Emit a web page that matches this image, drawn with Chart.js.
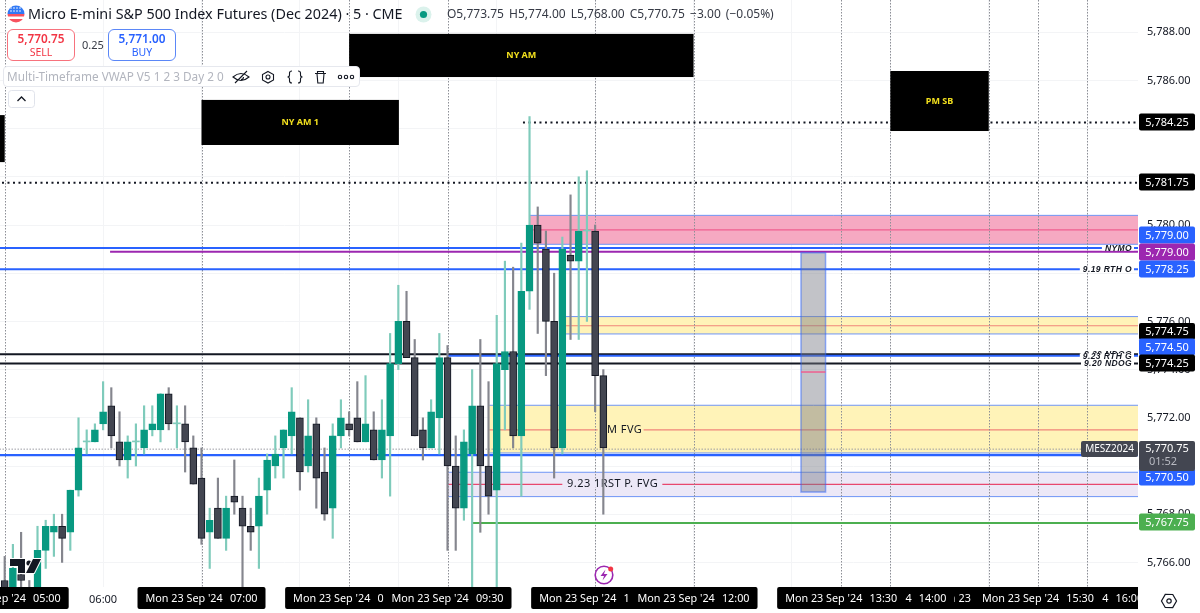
<!DOCTYPE html>
<html>
<head>
<meta charset="utf-8">
<title>MES 5 minute chart</title>
<script src="https://cdn.jsdelivr.net/npm/chart.js@4"></script>
<style>
  html, body { margin: 0; padding: 0; background: #fff; overflow: hidden; }
  #wrap { position: relative; width: 1200px; height: 613px; font-family: "Noto Sans", sans-serif; color: #131722; }
  canvas { position: absolute; left: 0; top: 0; }
  .abs { position: absolute; white-space: nowrap; }
  .btn { position: absolute; top: 29px; width: 68px; height: 32px; box-sizing: border-box; border-radius: 6px; background: #fff; text-align: center; border: 1px solid; }
  .btn b { display: block; font-weight: 600; font-size: 11.8px; line-height: 15px; margin-top: 1px; }
  .btn span { display: block; font-size: 10.5px; line-height: 13px; }
  #bar { position: absolute; left: 3px; top: 66px; width: 357px; height: 21px; box-sizing: border-box; background: #fff; border: 1px solid #e6e8ee; border-radius: 4px; }
</style>
</head>
<body>
<div id="wrap">
  <canvas id="c" width="1200" height="613"></canvas>

  <svg class="abs" style="left:7px;top:5px" width="18" height="18" viewBox="0 0 18 18">
    <defs><clipPath id="fc"><circle cx="9" cy="9" r="8.5"/></clipPath></defs>
    <g clip-path="url(#fc)">
      <rect width="18" height="18" fill="#fff"/>
      <rect y="9" width="18" height="2.5" fill="#f7525f"/>
      <rect y="14" width="18" height="4" fill="#f7525f"/>
      <rect y="0" width="18" height="9" fill="#3179f5"/>
      <g fill="#fff"><circle cx="4" cy="3" r=".8"/><circle cx="7" cy="3" r=".8"/><circle cx="10" cy="3" r=".8"/><circle cx="13" cy="3" r=".8"/><circle cx="4" cy="6" r=".8"/><circle cx="7" cy="6" r=".8"/><circle cx="10" cy="6" r=".8"/><circle cx="13" cy="6" r=".8"/></g>
    </g>
  </svg>
  <div class="abs" style="left:28px;top:4px;font-size:14.35px;line-height:20px">Micro E-mini S&amp;P 500 Index Futures (Dec 2024) · 5 · CME</div>
  <svg class="abs" style="left:415px;top:6px" width="17" height="17"><circle cx="8.5" cy="8.5" r="8" fill="#dbf2ec"/><circle cx="8.5" cy="8.5" r="3.6" fill="#089981"/></svg>
  <div class="abs" style="left:447px;top:6px;font-size:12px;line-height:16px;color:#363a45;word-spacing:2px">O5,773.75 H5,774.00 L5,768.00 C5,770.75 −3.00 (−0.05%)</div>

  <div class="btn" style="left:7px;border-color:#f7727d;color:#f23645"><b>5,770.75</b><span>SELL</span></div>
  <div class="abs" style="left:82px;top:37px;font-size:11px;line-height:16px;color:#363a45">0.25</div>
  <div class="btn" style="left:108px;border-color:#5b87f7;color:#2962ff"><b>5,771.00</b><span>BUY</span></div>

  <div id="bar">
    <div class="abs" style="left:3px;top:1px;font-size:11.75px;line-height:17px;color:#b2b5be">Multi-Timeframe VWAP V5 1 2 3 Day 2 0</div>
    <svg class="abs" style="left:225px;top:0" width="130" height="20" fill="none" stroke="#131722" stroke-width="1.1">
      <path d="M4 10q8-7 16 0q-8 7-16 0zM6 16L18 4M12 12.5a2.5 2.5 0 0 0 2.5-2.5"/>
      <path d="M39 4.5l5.5 3v5.5l-5.5 3-5.5-3V7.5z"/><circle cx="39" cy="10" r="2"/>
      <path d="M63 4q-2.500 0-2.500 2v2q0 2-2 2q2 0 2 2v2q0 2 2.500 2M69 4q2.500 0 2.500 2v2q0 2 2 2q-2 0-2 2v2q0 2-2.500 2"/>
      <path d="M86 6.500h11M88.500 6.500v-2h6v2M88 6.500l.8 9.500h5.400l.8-9.500"/>
      <circle cx="111" cy="10" r="1.700"/><circle cx="117" cy="10" r="1.700"/><circle cx="123" cy="10" r="1.700"/>
    </svg>
  </div>
  <svg class="abs" style="left:8px;top:90px" width="27" height="18"><rect x=".5" y=".5" width="26" height="17" rx="3" fill="#fff" stroke="#e0e3eb"/><path d="M9.500 11l4-4 4 4" fill="none" stroke="#131722" stroke-width="1.300"/></svg>

  <svg class="abs" style="left:8px;top:556px" width="36" height="20" viewBox="0 0 36 20">
    <g fill="#131722" stroke="#fff" stroke-width="2" paint-order="stroke">
      <path d="M2 3h15v14h-7V10H2z"/><circle cx="21" cy="7" r="2.600"/><path d="M25 3h8l-7 14h-8z"/>
    </g>
  </svg>
  <svg class="abs" style="left:592px;top:563px" width="24" height="24">
    <circle cx="12" cy="12" r="8.800" fill="#fff" stroke="#9c27b0" stroke-width="1.600"/>
    <path d="M13.500 6.500l-5 6.500h3.500l-1.500 4.500 5-6.500H12z" fill="#9c27b0"/>
    <circle cx="18.700" cy="6" r="2.500" fill="#f23645"/>
  </svg>
  <svg class="abs" style="left:1159px;top:591px" width="20" height="20" fill="none" stroke="#131722" stroke-width="1.200">
    <path d="M10 2.500l6.500 3.700-.0 7.600L10 17.500 3.500 13.800V6.200z" transform="rotate(30 10 10)"/><circle cx="10" cy="10" r="2.200"/>
  </svg>
</div>

<script>
// Five minute bars counted from 05:00; index 73 is the 11:05 bar still forming.
const barIndex = Array.from({ length: 74 }, (_, i) => i);
const opens = [5765.25,5764.75,5765.50,5764.75,5764.75,5766.50,5767.25,5767.50,5767.25,5769.00,5771.00,5771.00,5771.75,5772.50,5771.00,5770.25,5771.00,5770.75,5771.50,5771.50,5773.00,5771.75,5771.75,5770.75,5769.50,5767.25,5768.25,5767.00,5768.75,5768.25,5767.50,5767.50,5769.00,5770.00,5770.75,5771.25,5772.00,5770.00,5771.75,5769.75,5768.25,5771.25,5771.75,5772.00,5771.00,5771.50,5770.25,5771.25,5774.25,5776.00,5774.50,5771.50,5770.75,5772.00,5774.50,5770.00,5768.25,5770.50,5772.50,5770.00,5769.00,5774.00,5774.75,5771.25,5777.25,5780.00,5779.00,5776.00,5770.75,5778.75,5778.50,5779.75,5779.75,5773.75];
const highs = [5766.25,5766.75,5767.25,5765.25,5767.50,5767.75,5768.00,5768.00,5769.00,5772.00,5771.50,5771.75,5773.50,5773.25,5772.25,5771.25,5771.75,5772.50,5772.50,5773.00,5773.25,5772.50,5772.50,5771.25,5770.75,5768.25,5769.50,5768.75,5770.25,5768.75,5768.25,5769.50,5770.50,5771.25,5771.50,5773.25,5772.00,5772.75,5772.00,5770.75,5771.75,5772.75,5772.25,5773.50,5773.75,5772.25,5772.75,5775.50,5777.50,5777.25,5775.25,5772.00,5772.75,5775.50,5775.00,5771.25,5771.50,5774.00,5775.25,5773.50,5776.25,5778.50,5778.25,5779.25,5784.50,5780.75,5779.75,5778.00,5779.50,5781.25,5782.00,5782.25,5780.00,5774.00];
const lows = [5764.50,5764.50,5764.75,5764.50,5764.50,5765.75,5766.25,5766.00,5766.50,5768.75,5770.50,5771.00,5771.50,5770.75,5770.00,5769.50,5770.00,5770.50,5771.25,5771.00,5771.50,5770.75,5769.75,5769.25,5766.75,5765.75,5767.00,5766.50,5768.00,5764.50,5766.50,5765.75,5768.00,5769.50,5769.50,5770.50,5769.00,5769.75,5768.25,5767.75,5767.00,5770.75,5771.25,5771.00,5771.00,5770.25,5769.50,5768.75,5774.00,5774.50,5771.25,5770.25,5770.75,5770.50,5766.50,5766.50,5767.75,5764.50,5767.25,5768.00,5764.50,5771.50,5770.75,5768.75,5776.50,5775.50,5773.75,5769.50,5770.50,5775.25,5775.25,5776.00,5772.25,5768.00];
const closes = [5764.75,5765.75,5765.25,5764.50,5766.50,5767.50,5767.50,5767.00,5769.00,5770.75,5771.00,5771.50,5772.25,5771.25,5770.25,5771.00,5771.00,5771.50,5771.75,5773.00,5771.75,5771.75,5771.00,5769.25,5767.00,5767.75,5767.00,5768.25,5768.50,5767.50,5767.25,5768.75,5770.25,5770.50,5771.50,5772.25,5769.75,5771.25,5769.50,5768.00,5771.25,5772.00,5771.50,5771.00,5771.75,5770.25,5771.50,5774.25,5776.00,5774.50,5771.25,5770.75,5772.25,5774.50,5770.00,5768.25,5771.00,5772.50,5770.00,5768.75,5774.25,5774.75,5771.25,5777.25,5780.00,5779.25,5776.00,5770.75,5779.00,5778.50,5779.75,5779.75,5773.75,5770.75];

// Horizontal price levels, then the bar each one starts at.
const levelPrices = [5784.25, 5781.75, 5779.05, 5778.89, 5778.16, 5774.64, 5774.57, 5774.25, 5770.45, 5767.64, 5770.70];
const levelStarts = [63.2, -1, -1, 12.85, -1, -1, 54, -1, -1, 57, -1];
const levelStyles = [
  { color: '#131722', width: 2, dash: [2, 3.5] }, { color: '#131722', width: 2, dash: [2, 3.5] },
  { color: '#2962ff', width: 2 }, { color: '#9c27b0', width: 2.2 }, { color: '#2962ff', width: 2 },
  { color: '#131722', width: 2 }, { color: '#2962ff', width: 2 }, { color: '#131722', width: 2 },
  { color: '#2962ff', width: 2.4 }, { color: '#4caf50', width: 2 }, { color: '#9a9ca3', width: 1, dash: [1.5, 1.5] }
];

// Fair value gap zones: upper, middle and lower price, first bar.
const zoneUppers = [5780.40, 5776.20, 5772.52, 5769.74];
const zoneMiddles = [5779.80, 5775.82, 5771.50, 5769.24];
const zoneLowers = [5779.20, 5775.48, 5770.54, 5768.73];
const zoneStarts = [64, 68.45, 59.1, 54];
const zoneFills = ['#f6a9c2', '#fff3b8', '#fff3b8', '#ece8f7'];
const zoneMids = ['#ef5f8f', '#f0857a', '#f0857a', '#e8476e'];

// Session boxes.
const sessionNames = ['', 'NY AM 1', 'NY AM', 'PM SB'];
const sessionFrom = [-12, 24, 42, 108];
const sessionTo = [0, 48.07, 84, 120];
const sessionHigh = [5784.56, 5785.19, 5787.93, 5786.39];
const sessionLow = [5782.61, 5783.32, 5786.14, 5783.90];

// Time labels in the order they stack on the axis.
const timeMarks = [0, 24, 42, 54, 72, 84, 132, 120, 108, 102, 126];
const dateLabel = "Mon 23 Sep '24";
const hourTicks = [12, 24, 36, 48, 60, 72, 84, 96, 108, 120, 132];
const hiddenPriceTicks = [5782, 5784];
const priceLabels = ['NYMO', '9.19 RTH O', '9.20 NDOG', '9.23 RTH G', '9.20 NDOG'];
const priceLabelLevels = [2, 4, 5, 6, 7];

const pad = n => String(n).padStart(2, '0');
const clock = i => { const m = 300 + i * 5; return pad(Math.floor(m / 60)) + ':' + pad(m % 60); };
const money = v => v.toLocaleString('en-US', { minimumFractionDigits: 2, maximumFractionDigits: 2 });
const toTick = v => money(Math.round(v * 4) / 4);

const GREEN = '#089981', GREEN_WICK = '#7fcbbb', DARK = '#434651', DARK_EDGE = '#131722', DARK_WICK = '#85868e';
const isUp = i => closes[i] >= opens[i];
const FONT = '"Noto Sans", sans-serif';
const RIGHT = 138.2;

const overlays = {
  id: 'overlays',
  // Zones and the dotted session markers sit under everything drawn by datasets.
  beforeDatasetsDraw(chart) {
    const { ctx, chartArea: a, scales: { x, y } } = chart;
    ctx.save();
    ctx.beginPath(); ctx.rect(a.left, a.top, a.width, a.height); ctx.clip();
    zoneUppers.forEach((_, i) => {
      const x0 = x.getPixelForValue(zoneStarts[i]);
      const t = y.getPixelForValue(zoneUppers[i]), m = y.getPixelForValue(zoneMiddles[i]), b = y.getPixelForValue(zoneLowers[i]);
      ctx.fillStyle = zoneFills[i];
      ctx.fillRect(x0, t, a.right - x0, b - t);
      ctx.lineWidth = 1; ctx.strokeStyle = '#6f95f5';
      ctx.beginPath(); ctx.moveTo(x0, t); ctx.lineTo(a.right, t); ctx.moveTo(x0, b); ctx.lineTo(a.right, b); ctx.stroke();
      ctx.strokeStyle = zoneMids[i]; ctx.lineWidth = 1.2;
      ctx.beginPath(); ctx.moveTo(x0, m); ctx.lineTo(a.right, m); ctx.stroke();
    });
    ctx.strokeStyle = '#8d8f96'; ctx.lineWidth = 1; ctx.setLineDash([1.5, 1.5]);
    timeMarks.forEach(t => {
      const px = Math.round(x.getPixelForValue(t)) + 0.5;
      ctx.beginPath(); ctx.moveTo(px, a.top); ctx.lineTo(px, a.bottom); ctx.stroke();
    });
    ctx.restore();
  },
  // Text tied to the levels goes above the lines but below the candles.
  beforeDatasetDraw(chart, args) {
    if (args.index !== 1) return;
    const { ctx, chartArea: a, scales: { x, y } } = chart;
    ctx.save();
    ctx.textBaseline = 'middle';
    ctx.textAlign = 'right';
    ctx.font = 'italic bold 8.5px "Liberation Sans"';
    ctx.letterSpacing = '.4px';
    priceLabels.forEach((text, i) => {
      const py = y.getPixelForValue(levelPrices[priceLabelLevels[i]]);
      const w = ctx.measureText(text).width;
      ctx.fillStyle = '#fff';
      ctx.fillRect(1132 - w - 3, py - 2.5, w + 5, 5);
      ctx.fillStyle = '#131722';
      ctx.fillText(text, 1132, py + .5);
    });
    ctx.font = '11px ' + FONT;
    ctx.letterSpacing = '.45px';
    ctx.textAlign = 'left';
    const yM = y.getPixelForValue(zoneMiddles[2]), yP = y.getPixelForValue(zoneMiddles[3]);
    ctx.fillStyle = zoneFills[2]; ctx.fillRect(x.getPixelForValue(72.3), yM - 3, 46, 6);
    ctx.fillStyle = zoneFills[3]; ctx.fillRect(x.getPixelForValue(68), yP - 3, 100, 6);
    ctx.fillStyle = '#131722';
    ctx.fillText('M FVG', 607, yM);
    ctx.fillText('9.23 1RST P. FVG', 567, yP);

    // Translucent measuring box between the NYMO level and the low of the session.
    const l = x.getPixelForValue(97.1), r = x.getPixelForValue(100.1);
    const top = y.getPixelForValue(5778.85), bot = y.getPixelForValue(5768.92), mid = y.getPixelForValue(5773.90);
    ctx.fillStyle = 'rgba(120,123,134,.45)';
    ctx.fillRect(l, top, r - l, bot - top);
    ctx.strokeStyle = 'rgba(41,98,255,.5)'; ctx.lineWidth = 1.5;
    ctx.strokeRect(l, top, r - l, bot - top);
    ctx.strokeStyle = '#ef5f8f'; ctx.lineWidth = 1.5;
    ctx.beginPath(); ctx.moveTo(l, mid); ctx.lineTo(r, mid); ctx.stroke();
    ctx.restore();
  },
  // Session boxes, price tags and the time axis stamps lie above the series.
  afterDatasetsDraw(chart) {
    const { ctx, chartArea: a, scales: { x, y } } = chart;
    ctx.save();
    ctx.beginPath(); ctx.rect(0, 0, a.right, 613); ctx.clip();
    ctx.textBaseline = 'middle';
    sessionNames.forEach((name, i) => {
      const l = x.getPixelForValue(sessionFrom[i]), r = x.getPixelForValue(sessionTo[i]);
      const t = y.getPixelForValue(sessionHigh[i]), b = y.getPixelForValue(sessionLow[i]);
      ctx.fillStyle = '#000';
      ctx.fillRect(l, t, r - l, b - t);
      ctx.fillStyle = '#f2e01e'; ctx.textAlign = 'center';
      ctx.font = 'bold 9px ' + FONT;
      ctx.fillText(name, (l + r) / 2, (t + b) / 2);
    });
    ctx.textAlign = 'left';
    ctx.font = '10.8px ' + FONT;
    timeMarks.forEach(t => {
      const c = x.getPixelForValue(t), l = c - 64;
      ctx.fillStyle = '#000';
      ctx.beginPath(); ctx.roundRect(l, 587, 128, 22, 2); ctx.fill();
      ctx.fillStyle = '#fff';
      ctx.fillText(dateLabel, l + 8, 599);
      ctx.textAlign = 'right';
      ctx.fillText(clock(t), l + 120, 599);
      ctx.textAlign = 'left';
    });
    // Symbol stamp on the current price row.
    ctx.fillStyle = DARK;
    ctx.beginPath(); ctx.roundRect(1081, 441, 57, 16, 2); ctx.fill();
    ctx.fillStyle = '#fff'; ctx.textAlign = 'center'; ctx.font = '10px ' + FONT;
    ctx.fillText('MESZ2024', 1109.5, 449.5);
    ctx.restore();

    const tag = (value, color, cy, h = 17) => {
      ctx.fillStyle = color;
      ctx.beginPath(); ctx.roundRect(1139, cy - h / 2, 56, h, 2); ctx.fill();
      ctx.fillStyle = '#fff'; ctx.textAlign = 'center'; ctx.textBaseline = 'middle';
      ctx.font = '11px ' + FONT;
      ctx.fillText(toTick(value), 1167, cy + .5);
    };
    ctx.save();
    // Tags slide off their exact price where they would overlap a neighbour.
    const tagRows = [122, 182, 235, 252, 269, 331.5, 347, 363, 0, 522];
    tagRows.forEach((cy, i) => { if (cy) tag(levelPrices[i], levelStyles[i].color === '#131722' ? '#000' : levelStyles[i].color, cy); });
    tag(levelPrices[8], '#2962ff', 477);
    ctx.fillStyle = DARK;
    ctx.beginPath(); ctx.roundRect(1139, 441, 56, 30, 2); ctx.fill();
    ctx.fillStyle = '#fff'; ctx.textAlign = 'center'; ctx.font = '11px ' + FONT;
    ctx.fillText(toTick(levelPrices[10]), 1167, 449);
    ctx.fillStyle = '#b8bac2';
    ctx.fillText('01:52', 1163, 462);
    ctx.restore();
  }
};

new Chart(document.getElementById('c'), {
  type: 'bar',
  plugins: [overlays],
  data: {
    datasets: [
      {
        label: 'Bodies', order: 0, grouped: false, barThickness: 7, minBarLength: 1,
        data: barIndex.map(i => ({ x: i, y: [opens[i], closes[i]] })),
        backgroundColor: barIndex.map(i => opens[i] === closes[i] ? GREEN_WICK : isUp(i) ? GREEN : DARK),
        borderColor: barIndex.map(i => opens[i] === closes[i] ? GREEN_WICK : isUp(i) ? GREEN : DARK_EDGE),
        borderWidth: barIndex.map(i => opens[i] === closes[i] ? 0 : 1),
        borderSkipped: false
      },
      {
        label: 'Wicks', order: 1, grouped: false, barThickness: 1.5,
        data: barIndex.map(i => ({ x: i, y: [lows[i], highs[i]] })),
        backgroundColor: barIndex.map(i => isUp(i) ? GREEN_WICK : DARK_WICK),
        borderWidth: 0
      },
      ...levelPrices.map((p, i) => ({
        type: 'line', label: 'Level ' + i, order: 2 + (levelPrices.length - i),
        data: [{ x: levelStarts[i], y: p }, { x: RIGHT, y: p }],
        borderColor: levelStyles[i].color, borderWidth: levelStyles[i].width, borderDash: levelStyles[i].dash || [],
        pointRadius: 0, tension: 0, fill: false
      }))
    ]
  },
  options: {
    responsive: false, animation: false, events: [],
    layout: { padding: 0 },
    plugins: { legend: { display: false }, tooltip: { enabled: false } },
    scales: {
      x: {
        type: 'linear', min: -0.573, max: RIGHT, offset: false,
        grid: { color: '#f3f4f6', offset: false, drawTicks: false }, border: { display: false },
        afterFit(s) { s.height = 26; s.paddingLeft = 0; s.paddingRight = 0; },
        afterBuildTicks(s) { s.ticks = hourTicks.map(v => ({ value: v })); },
        ticks: { callback: v => clock(v), color: '#131722', font: { family: FONT, size: 11 }, padding: 6, maxRotation: 0, autoSkip: false }
      },
      y: {
        position: 'right', min: 5764.98, max: 5789.336,
        grid: { color: '#f3f4f6', drawTicks: false }, border: { display: false },
        afterFit(s) { s.width = 62; s.paddingTop = 0; s.paddingBottom = 0; },
        ticks: { stepSize: 2, includeBounds: false, callback: v => hiddenPriceTicks.includes(v) ? '' : money(v), color: '#131722', font: { family: FONT, size: 11 }, padding: 9 }
      }
    }
  }
});
</script>
</body>
</html>
